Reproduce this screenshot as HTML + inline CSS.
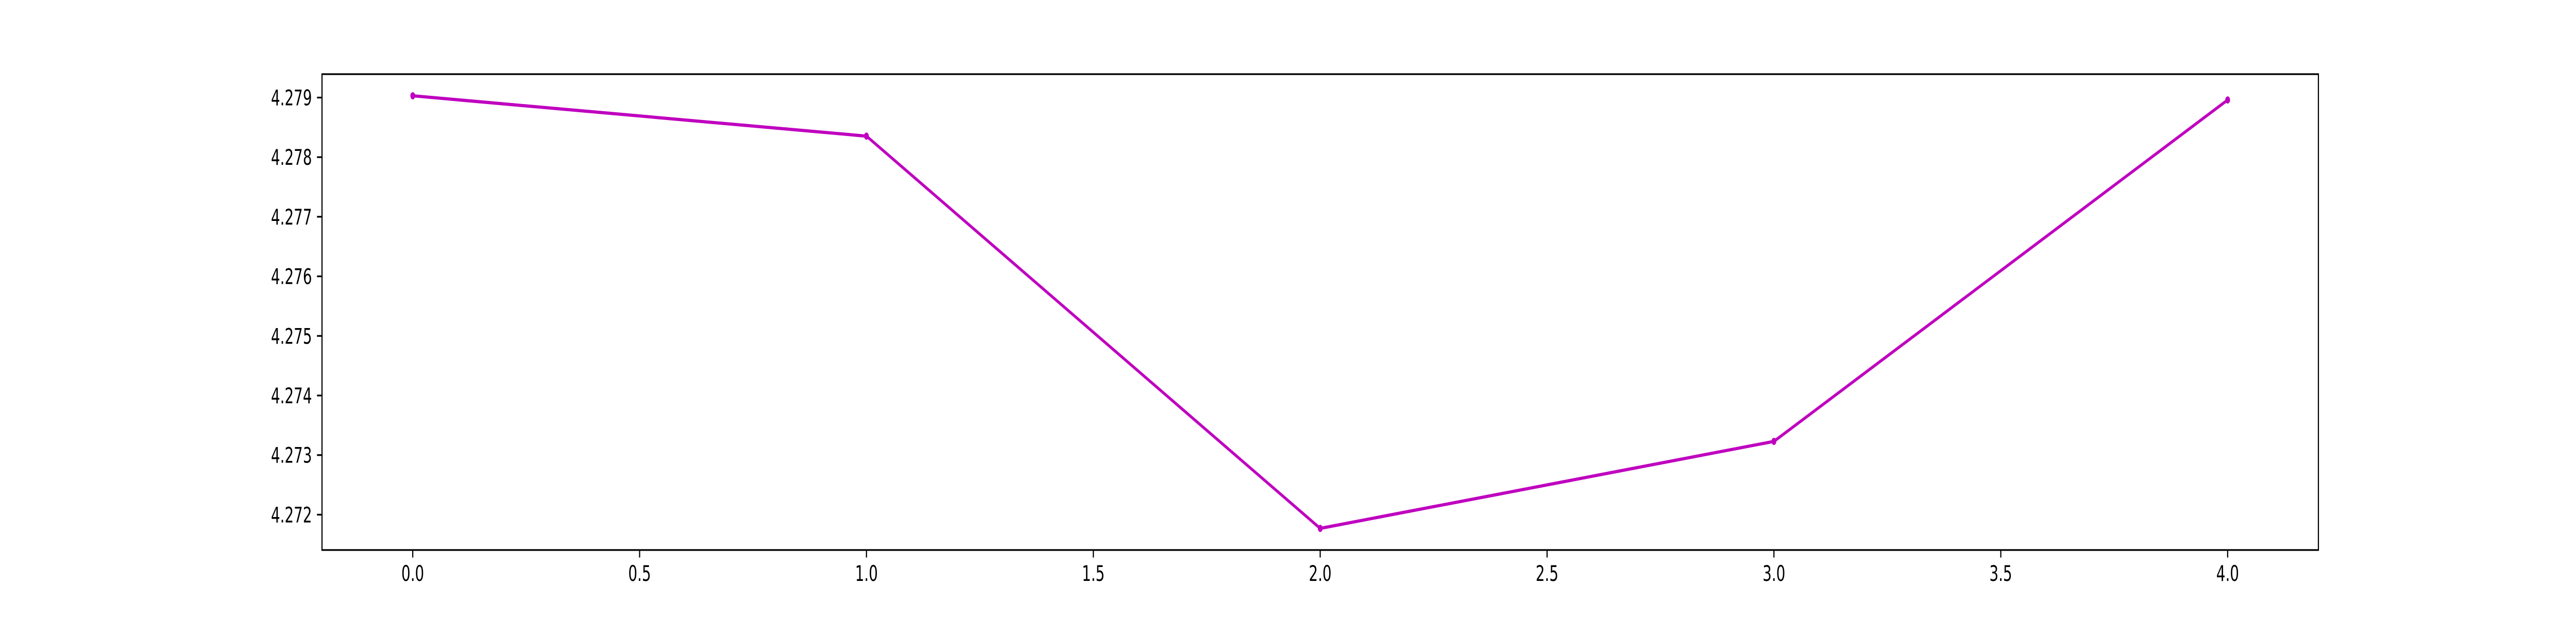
<!DOCTYPE html>
<html><head><meta charset="utf-8"><style>
html,body{margin:0;padding:0;background:#fff;width:100%;height:100%;overflow:hidden;}
svg{display:block;width:100vw;height:100vh;}
text{font-family:"DejaVu Sans","Liberation Sans",sans-serif;font-size:41.67px;fill:#000;}
</style></head><body>
<svg id="chart" viewBox="0 0 7500 1200" preserveAspectRatio="none" xmlns="http://www.w3.org/2000/svg">
<rect x="0" y="0" width="7500" height="1200" fill="#fff"/>
<g id="ticks"></g>
<g id="series"></g>
<rect x="937.5" y="144" width="5812.5" height="924" fill="none" stroke="#000" stroke-width="3.33"/>
</svg>
<script>
const xValues = [0, 1, 2, 3, 4];
const yValues = [4.27903, 4.278353, 4.27177, 4.27323, 4.27896];
const xTicks = [0, 0.5, 1, 1.5, 2, 2.5, 3, 3.5, 4];
const xTickLabels = ["0.0","0.5","1.0","1.5","2.0","2.5","3.0","3.5","4.0"];
const yTicks = [4.272, 4.273, 4.274, 4.275, 4.276, 4.277, 4.278, 4.279];
const yTickLabels = ["4.272","4.273","4.274","4.275","4.276","4.277","4.278","4.279"];

const L=937.5, R=6750, T=144, B=1068;
const NS="http://www.w3.org/2000/svg";
const ymin0=Math.min(...yValues), ymax0=Math.max(...yValues);
const xmin0=Math.min(...xValues), xmax0=Math.max(...xValues);
const xm=(xmax0-xmin0)*0.05, ym=(ymax0-ymin0)*0.05;
const X0=xmin0-xm, X1=xmax0+xm, Y0=ymin0-ym, Y1=ymax0+ym;
function sx(v){return L+(v-X0)/(X1-X0)*(R-L);}
function sy(v){return B-(v-Y0)/(Y1-Y0)*(B-T);}
function mk(tag,attrs){const e=document.createElementNS(NS,tag);for(const k in attrs)e.setAttribute(k,attrs[k]);return e;}
const tg=document.getElementById('ticks');
xTicks.forEach((t,i)=>{
  const x=sx(t);
  const ln=mk('line',{x1:x,x2:x,y1:B,y2:B+14.6,stroke:'#000','stroke-width':3.33});
  
  
  tg.appendChild(ln);
  const tx=mk('text',{x:x,y:B+14.6+14.6+31,'text-anchor':'middle'});
  tx.textContent=xTickLabels[i];
  
  
  tg.appendChild(tx);
});
yTicks.forEach((t,i)=>{
  const y=sy(t);
  const ln=mk('line',{x1:L-14.6,x2:L,y1:y,y2:y,stroke:'#000','stroke-width':3.33});
  
  
  tg.appendChild(ln);
  const tx=mk('text',{x:L-14.6-14.6,y:y+15,'text-anchor':'end'});
  tx.textContent=yTickLabels[i];
  
  
  tg.appendChild(tx);
});
const sg=document.getElementById('series');
const pts=xValues.map((v,i)=>sx(v)+','+sy(yValues[i])).join(' ');
const pl=mk('polyline',{points:pts,fill:'none',stroke:'#bf00bf','stroke-width':6.25,'stroke-linejoin':'round','stroke-linecap':'square'});


sg.appendChild(pl);
xValues.forEach((v,i)=>{
  const c=mk('circle',{cx:sx(v),cy:sy(yValues[i]),r:7,fill:'#bf00bf'});
  
  
  sg.appendChild(c);
});
</script>
</body></html>
